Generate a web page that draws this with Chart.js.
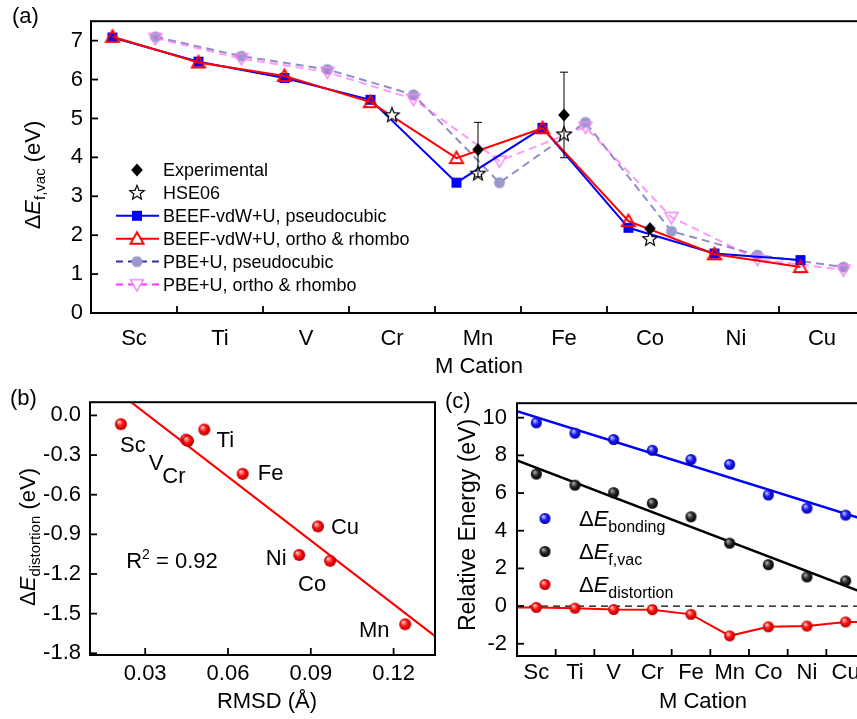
<!DOCTYPE html>
<html>
<head>
<meta charset="utf-8">
<title>Vacancy formation energies</title>
<script src="https://cdn.jsdelivr.net/npm/chart.js@4.4.1/dist/chart.umd.min.js"></script>
<style>
  html, body { margin: 0; padding: 0; background: #fff; }
  body { width: 857px; height: 719px; overflow: hidden; position: relative; }
  canvas { position: absolute; display: block; }
</style>
</head>
<body>
<canvas id="chartA" width="880" height="380" style="left:0;top:0"></canvas>
<canvas id="chartB" width="440" height="339" style="left:0;top:380px"></canvas>
<canvas id="chartC" width="440" height="339" style="left:440px;top:380px"></canvas>
<script>
// ── Data ───────────────────────────────────────────────

// (a) vacancy formation energy per M cation
const cations = ["Sc", "Ti", "V", "Cr", "Mn", "Fe", "Co", "Ni", "Cu"];
const beefPseudo = [7.08, 6.46, 6.04, 5.48, 3.35, 4.76, 2.19, 1.53, 1.36];
const beefOrtho = [7.10, 6.44, 6.09, 5.42, 3.98, 4.75, 2.36, 1.51, 1.18];
const pbePseudo = [7.10, 6.60, 6.26, 5.61, 3.35, 4.90, 2.10, 1.49, 1.18];
const pbeOrtho = [7.06, 6.54, 6.19, 5.50, 3.91, 4.78, 2.46, 1.38, 1.11];
const experimental = [null, null, null, null, 4.20, 5.09, 2.17, null, null];
const experimentalErr = [null, null, null, null, 0.70, 1.10, null, null, null];
const hse06 = [null, null, null, 5.08, 3.58, 4.59, 1.90, null, null];
const yTicksA = [0, 1, 2, 3, 4, 5, 6, 7];

// (b) distortion energy vs RMSD (same cation order as (a))
const rmsd = [0.0212, 0.0514, 0.0448, 0.0455, 0.1242, 0.0653, 0.0970, 0.0858, 0.0926];
const distortion = [-0.066, -0.107, -0.183, -0.193, -1.58, -0.442, -1.10, -1.056, -0.840];
const fitRmsd = [0.025, 0.135];
const fitDistortion = [0.098, -1.67];
const xTicksB = [0.03, 0.06, 0.09, 0.12];
const yTicksB = [0, -0.3, -0.6, -0.9, -1.2, -1.5, -1.8];

// (c) energy decomposition
const cationsC = ["Sc", "Ti", "V", "Cr", "Fe", "Mn", "Co", "Ni", "Cu"];
const bondingC = [9.73, 9.18, 8.84, 8.27, 7.78, 7.52, 5.90, 5.20, 4.83];
const fvacC = [7.01, 6.42, 6.02, 5.46, 4.74, 3.34, 2.20, 1.55, 1.34];
const distortionC = [-0.07, -0.11, -0.18, -0.19, -0.44, -1.58, -1.10, -1.06, -0.84];
const distortionEdgeC = [-0.08, -0.85];   // red curve where it meets the frame
const bondingFitC = [10.34, 4.58];        // fit lines at both frame edges
const fvacFitC = [7.73, 0.68];
const yTicksC = [-2, 0, 2, 4, 6, 8, 10];

// ── Helpers ────────────────────────────────────────────

const FONT = "'Liberation Sans', Arial, sans-serif";

function setFont(ctx, size, italic) {
  ctx.font = (italic ? "italic " : "") + size + "px " + FONT;
}

// parts: [{t, size, italic, shift}] – shift > 0 is subscript, < 0 superscript
function drawRich(ctx, parts, x, y, base, align, rot) {
  ctx.save();
  ctx.translate(x, y);
  if (rot) ctx.rotate(rot);
  let w = 0;
  parts.forEach((p) => {
    setFont(ctx, p.size || base, p.italic);
    w += ctx.measureText(p.t).width;
  });
  let cx = align === "center" ? -w / 2 : align === "right" ? -w : 0;
  ctx.fillStyle = "#000";
  ctx.textAlign = "left";
  ctx.textBaseline = "alphabetic";
  const bl = base * 0.36;
  parts.forEach((p) => {
    setFont(ctx, p.size || base, p.italic);
    ctx.fillText(p.t, cx, bl + (p.shift || 0));
    cx += ctx.measureText(p.t).width;
  });
  ctx.restore();
}

function marker(size, draw) {
  const c = document.createElement("canvas");
  c.width = c.height = size;
  const g = c.getContext("2d");
  g.translate(size / 2, size / 2);
  draw(g);
  return c;
}

function triPath(g, r, down) {
  const s = down ? -1 : 1;
  g.beginPath();
  g.moveTo(0, -r * s);
  g.lineTo(r, r * 0.75 * s);
  g.lineTo(-r, r * 0.75 * s);
  g.closePath();
}

function ball(d, light, mid, dark) {
  return marker(d + 2, (g) => {
    const r = d / 2;
    const grad = g.createRadialGradient(-r * 0.35, -r * 0.4, r * 0.08, 0, 0, r);
    grad.addColorStop(0, light);
    grad.addColorStop(0.5, mid);
    grad.addColorStop(1, dark);
    g.fillStyle = grad;
    g.beginPath();
    g.arc(0, 0, r, 0, Math.PI * 2);
    g.fill();
  });
}

const mk = {
  square: marker(12, (g) => { g.fillStyle = "#0000ff"; g.fillRect(-5, -5, 10, 10); }),
  triUp: marker(18, (g) => { triPath(g, 6.5, false); g.strokeStyle = "#ff0000"; g.lineWidth = 2; g.stroke(); }),
  triUpLeg: marker(18, (g) => { triPath(g, 6.5, false); g.fillStyle = "#fff"; g.fill(); g.strokeStyle = "#ff0000"; g.lineWidth = 2; g.stroke(); }),
  circle: marker(14, (g) => { g.fillStyle = "#9999cc"; g.beginPath(); g.arc(0, 0, 5.5, 0, Math.PI * 2); g.fill(); }),
  triDown: marker(18, (g) => { triPath(g, 6.5, true); g.strokeStyle = "#ee88ee"; g.lineWidth = 1.5; g.stroke(); }),
  triDownLeg: marker(18, (g) => { triPath(g, 6.5, true); g.fillStyle = "#fff"; g.fill(); g.strokeStyle = "#ee88ee"; g.lineWidth = 1.5; g.stroke(); }),
  diamond: marker(16, (g) => {
    g.fillStyle = "#000";
    g.beginPath(); g.moveTo(0, -6.5); g.lineTo(5.8, 0); g.lineTo(0, 6.5); g.lineTo(-5.8, 0); g.closePath(); g.fill();
  }),
  star: marker(18, (g) => {
    g.beginPath();
    for (let k = 0; k < 10; k++) {
      const r = k % 2 ? 3.3 : 7.6;
      const ang = -Math.PI / 2 + (k * Math.PI) / 5;
      g.lineTo(r * Math.cos(ang), r * Math.sin(ang));
    }
    g.closePath();
    g.fillStyle = "#fff"; g.fill();
    g.strokeStyle = "#000"; g.lineWidth = 1.2; g.stroke();
  }),
  redBall: ball(12, "#ffc8c8", "#ff1010", "#b00000"),
  blueBall: ball(11, "#c8c8ff", "#1a1aff", "#0000a0"),
  blackBall: ball(11, "#b0b0b0", "#2a2a2a", "#000"),
  redBallC: ball(11, "#ffc8c8", "#ff1010", "#b00000"),
};

const pts = (vals, shift, errs) =>
  vals
    .map((y, i) => ({ x: i + 1 + shift, y, err: errs ? errs[i] : null }))
    .filter((p) => p.y !== null);

const fixedTicks = (list) => (s) => { s.ticks = list.map((v) => ({ value: v })); };
const tickFont = { family: FONT, size: 22 };
const noGrid = { display: false, drawTicks: false };

// frame, inward tick marks, error bars, custom legend and rich text.
// The settings live in a closure so Chart.js does not proxy them.
function decor(o) {
  return {
    id: "decor",
    afterDatasetsDraw(chart) {
      const { ctx, scales } = chart;
      if (!o.errorBars) return;
      const ds = o.errorBars.dataset;
      const meta = chart.getDatasetMeta(ds);
      ctx.save();
      ctx.strokeStyle = "#000";
      ctx.lineWidth = 1;
      meta.data.forEach((pt, i) => {
        const raw = chart.data.datasets[ds].data[i];
        if (!raw.err) return;
        const y1 = scales.y.getPixelForValue(raw.y + raw.err);
        const y2 = scales.y.getPixelForValue(raw.y - raw.err);
        ctx.beginPath();
        ctx.moveTo(pt.x, y1); ctx.lineTo(pt.x, y2);
        ctx.moveTo(pt.x - 4, y1); ctx.lineTo(pt.x + 4, y1);
        ctx.moveTo(pt.x - 4, y2); ctx.lineTo(pt.x + 4, y2);
        ctx.stroke();
      });
      ctx.restore();
    },
    afterDraw(chart) {
      const { ctx, chartArea: a, scales } = chart;
      ctx.save();
      ctx.strokeStyle = "#000";
      ctx.lineWidth = 1.8;
      (o.xMarks || []).forEach((v) => {
        const px = scales.x.getPixelForValue(v);
        ctx.beginPath(); ctx.moveTo(px, a.bottom); ctx.lineTo(px, a.bottom - 7); ctx.stroke();
      });
      (o.yMarks || []).forEach((v) => {
        const py = scales.y.getPixelForValue(v);
        ctx.beginPath(); ctx.moveTo(a.left, py); ctx.lineTo(a.left + 7, py); ctx.stroke();
      });
      ctx.lineWidth = 2;
      ctx.strokeRect(a.left, a.top, a.right - a.left, a.bottom - a.top);

      if (o.legend) {
        const L = o.legend;
        L.items.forEach((it, i) => {
          const y = L.top + i * L.step;
          if (it.line) {
            ctx.save();
            ctx.strokeStyle = it.line.color;
            ctx.lineWidth = 2;
            ctx.setLineDash(it.line.dash || []);
            ctx.beginPath(); ctx.moveTo(L.x1, y); ctx.lineTo(L.x2, y); ctx.stroke();
            ctx.restore();
          }
          const m = it.marker;
          ctx.drawImage(m, L.mx - m.width / 2, y - m.height / 2);
          drawRich(ctx, it.parts, L.tx, y, L.size, "left", 0);
        });
      }
      if (o.pointLabels) {
        const P = o.pointLabels;
        const meta = chart.getDatasetMeta(P.dataset);
        meta.data.forEach((pt, i) => {
          const [dx, dy] = P.offsets[i];
          drawRich(ctx, [{ t: P.labels[i] }], pt.x + dx, pt.y + dy, 22, "center", 0);
        });
      }
      (o.texts || []).forEach((t) => drawRich(ctx, t.parts, t.x, t.y, t.size, t.align || "center", t.rot || 0));
      ctx.restore();
    },
  };
}

Chart.defaults.font.family = FONT;
Chart.defaults.color = "#000";
const common = {
  responsive: false,
  animation: false,
  events: [],
};
const basePlugins = { legend: { display: false }, tooltip: { enabled: false } };

// ── (a) ΔE_f,vac per cation ────────────────────────────

const boundaries = cations.slice(1).map((_, i) => i + 1.5);

new Chart(document.getElementById("chartA"), {
  type: "line",
  data: {
    datasets: [
      { data: pts(experimental, 0, experimentalErr), showLine: false, pointStyle: mk.diamond, order: 0 },
      { data: pts(hse06, 0), showLine: false, pointStyle: mk.star, order: 1 },
      { data: pts(beefOrtho, -0.25), borderColor: "#ff0000", borderWidth: 2, pointStyle: mk.triUp, order: 2 },
      { data: pts(beefPseudo, -0.25), borderColor: "#0000ff", borderWidth: 2, pointStyle: mk.square, order: 3 },
      { data: pts(pbeOrtho, 0.25), borderColor: "rgba(255,51,255,0.5)", borderWidth: 2, borderDash: [8, 5], pointStyle: mk.triDown, order: 4 },
      { data: pts(pbePseudo, 0.25), borderColor: "rgba(51,51,153,0.55)", borderWidth: 2, borderDash: [8, 5], pointStyle: mk.circle, order: 5 },
    ],
  },
  options: {
    ...common,
    layout: { padding: { top: 12, right: 15, left: 0, bottom: 0 } },
    scales: {
      x: {
        type: "linear", min: 0.5, max: 9.5,
        grid: noGrid, border: { display: false },
        afterBuildTicks: fixedTicks(cations.map((_, i) => i + 1)),
        afterFit: (s) => { s.height = 67; },
        ticks: { font: tickFont, padding: 13, autoSkip: false, maxRotation: 0, callback: (v) => cations[v - 1] },
      },
      y: {
        min: 0, max: 7.5,
        grid: noGrid, border: { display: false },
        afterBuildTicks: fixedTicks(yTicksA),
        afterFit: (s) => { s.width = 91; },
        ticks: { font: tickFont, padding: 8 },
      },
    },
    plugins: basePlugins,
  },
  plugins: [decor({
    errorBars: { dataset: 0 },
    xMarks: boundaries,
    yMarks: yTicksA,
    legend: {
      top: 170, step: 22.9, x1: 116, x2: 159, mx: 137, tx: 163, size: 18,
      items: [
        { marker: mk.diamond, parts: [{ t: "Experimental" }] },
        { marker: mk.star, parts: [{ t: "HSE06" }] },
        { marker: mk.square, line: { color: "#0000ff" }, parts: [{ t: "BEEF-vdW+U, pseudocubic" }] },
        { marker: mk.triUpLeg, line: { color: "#ff0000" }, parts: [{ t: "BEEF-vdW+U, ortho & rhombo" }] },
        { marker: mk.circle, line: { color: "#333399", dash: [7, 5] }, parts: [{ t: "PBE+U, pseudocubic" }] },
        { marker: mk.triDownLeg, line: { color: "#ff33ff", dash: [7, 5] }, parts: [{ t: "PBE+U, ortho & rhombo" }] },
      ],
    },
    texts: [
      { parts: [{ t: "(a)" }], x: 12, y: 15, size: 22, align: "left" },
      { parts: [{ t: "M Cation" }], x: 479, y: 365, size: 22 },
      {
        parts: [{ t: "Δ" }, { t: "E", italic: true }, { t: "f,vac", size: 15, shift: 5 }, { t: " (eV)" }],
        x: 32, y: 175, size: 22, rot: -Math.PI / 2,
      },
    ],
  })],
});

// ── (b) ΔE_distortion vs RMSD ──────────────────────────

const labelOffsetsB = [[12, 20], [21, 10], [-30, 22], [-14, 34], [-31, 5], [28, -2], [-18, 22], [-23, 2], [27, 0]];

new Chart(document.getElementById("chartB"), {
  type: "scatter",
  data: {
    datasets: [
      { data: rmsd.map((x, i) => ({ x, y: distortion[i] })), pointStyle: mk.redBall, order: 0 },
      {
        type: "line", data: fitRmsd.map((x, i) => ({ x, y: fitDistortion[i] })),
        borderColor: "#ff0000", borderWidth: 2.2, pointRadius: 0, order: 1,
      },
    ],
  },
  options: {
    ...common,
    layout: { padding: { top: 14, right: 3, left: 0, bottom: 0 } },
    scales: {
      x: {
        type: "linear", min: 0.01, max: 0.135,
        grid: noGrid, border: { display: false },
        afterBuildTicks: fixedTicks(xTicksB),
        afterFit: (s) => { s.height = 64; },
        ticks: { font: tickFont, padding: 6, maxRotation: 0, callback: (v) => v.toFixed(2) },
      },
      y: {
        min: -1.813, max: 0.1,
        grid: noGrid, border: { display: false },
        afterBuildTicks: fixedTicks(yTicksB),
        afterFit: (s) => { s.width = 90; },
        ticks: { font: tickFont, padding: 9, callback: (v) => v.toFixed(1) },
      },
    },
    plugins: basePlugins,
  },
  plugins: [decor({
    xMarks: xTicksB,
    yMarks: yTicksB,
    pointLabels: { dataset: 0, labels: cations, offsets: labelOffsetsB },
    texts: [
      { parts: [{ t: "(b)" }], x: 10, y: 17, size: 22, align: "left" },
      { parts: [{ t: "RMSD (Å)" }], x: 267, y: 320, size: 22 },
      { parts: [{ t: "R" }, { t: "2", size: 14, shift: -9 }, { t: " = 0.92" }], x: 172, y: 180, size: 22 },
      {
        parts: [{ t: "Δ" }, { t: "E", italic: true }, { t: "distortion", size: 15, shift: 5 }, { t: " (eV)" }],
        x: 27, y: 157, size: 22, rot: -Math.PI / 2,
      },
    ],
  })],
});

// ── (c) energy decomposition ───────────────────────────

const xs = cationsC.map((_, i) => i + 1);
const edgeX = [0.5, 9.5];

new Chart(document.getElementById("chartC"), {
  type: "scatter",
  data: {
    datasets: [
      { data: xs.map((x, i) => ({ x, y: bondingC[i] })), pointStyle: mk.blueBall, order: 0 },
      { data: xs.map((x, i) => ({ x, y: fvacC[i] })), pointStyle: mk.blackBall, order: 1 },
      { data: xs.map((x, i) => ({ x, y: distortionC[i] })), pointStyle: mk.redBallC, order: 2 },
      { type: "line", data: edgeX.map((x, i) => ({ x, y: bondingFitC[i] })), borderColor: "#0000ff", borderWidth: 2.5, pointRadius: 0, order: 3 },
      { type: "line", data: edgeX.map((x, i) => ({ x, y: fvacFitC[i] })), borderColor: "#000", borderWidth: 2.5, pointRadius: 0, order: 4 },
      {
        type: "line",
        data: [{ x: edgeX[0], y: distortionEdgeC[0] }, ...xs.map((x, i) => ({ x, y: distortionC[i] })), { x: edgeX[1], y: distortionEdgeC[1] }],
        borderColor: "#ff0000", borderWidth: 2, pointRadius: 0, order: 5,
      },
      { type: "line", data: edgeX.map((x) => ({ x, y: 0 })), borderColor: "#000", borderWidth: 1.3, borderDash: [7, 5], pointRadius: 0, order: 6 },
    ],
  },
  options: {
    ...common,
    layout: { padding: { top: 14, right: 15, left: 0, bottom: 0 } },
    scales: {
      x: {
        type: "linear", min: 0.5, max: 9.5,
        grid: noGrid, border: { display: false },
        afterBuildTicks: fixedTicks(xs),
        afterFit: (s) => { s.height = 63; },
        ticks: { font: tickFont, padding: 4, autoSkip: false, maxRotation: 0, callback: (v) => cationsC[v - 1] },
      },
      y: {
        min: -2.65, max: 10.77,
        grid: noGrid, border: { display: false },
        afterBuildTicks: fixedTicks(yTicksC),
        afterFit: (s) => { s.width = 77; },
        ticks: { font: tickFont, padding: 10 },
      },
    },
    plugins: basePlugins,
  },
  plugins: [decor({
    xMarks: xs.slice(1).map((x) => x - 0.5),
    yMarks: yTicksC,
    legend: {
      top: 138.5, step: 33, mx: 105, tx: 139, size: 22,
      items: [
        { marker: mk.blueBall, parts: [{ t: "Δ" }, { t: "E", italic: true }, { t: "bonding", size: 16, shift: 6 }] },
        { marker: mk.blackBall, parts: [{ t: "Δ" }, { t: "E", italic: true }, { t: "f,vac", size: 16, shift: 6 }] },
        { marker: mk.redBallC, parts: [{ t: "Δ" }, { t: "E", italic: true }, { t: "distortion", size: 16, shift: 6 }] },
      ],
    },
    texts: [
      { parts: [{ t: "(c)" }], x: 5, y: 20, size: 22, align: "left" },
      { parts: [{ t: "M Cation" }], x: 263, y: 320, size: 22 },
      { parts: [{ t: "Relative Energy (eV)" }], x: 27, y: 145, size: 23, rot: -Math.PI / 2 },
    ],
  })],
});
</script>
</body>
</html>
